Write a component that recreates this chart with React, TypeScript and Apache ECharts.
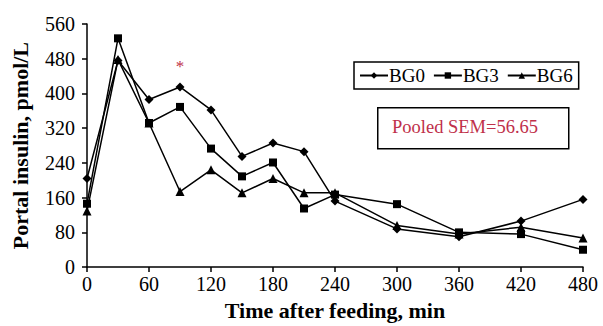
import React, { useEffect, useRef } from "react";
import * as echarts from "echarts";

const times = [0, 30, 60, 90, 120, 150, 180, 210, 240, 300, 360, 420, 480];
const bg0 = [204, 476, 386, 415, 362, 255, 286, 266, 152, 88, 70, 106, 156];
const bg3 = [146, 527, 332, 369, 273, 209, 241, 135, 167, 145, 80, 76, 40];
const bg6 = [129, 478, 332, 174, 224, 171, 204, 171, 171, 96, 76, 92, 67];
const seriesNames = ["BG0", "BG3", "BG6"];
const sigPoint = [90, 463];
const semText = "Pooled SEM=56.65";

const FONT = "'Liberation Serif', 'Times New Roman', serif";

export default function App() {
  const ref = useRef<HTMLDivElement>(null);
  useEffect(() => {
    if (!ref.current) return;
    const chart = echarts.init(ref.current, null, { renderer: "svg" });
    const mk = (name: string, vals: number[], symbol: string, size: number) => ({
      name,
      type: "line",
      data: times.map((t, i) => [t, vals[i]]),
      symbol,
      symbolSize: size,
      showSymbol: true,
      lineStyle: { color: "#000", width: 1.5 },
      itemStyle: { color: "#000" },
      z: 3,
    });
    const s0: any = mk(seriesNames[0], bg0, "diamond", 9);
    s0.markPoint = {
      symbol: "circle",
      symbolSize: 0,
      data: [{ coord: sigPoint }],
      label: { show: true, formatter: "*", color: "#c0304a", fontSize: 17, fontFamily: FONT, position: "inside" },
    };
    chart.setOption({
      animation: false,
      grid: { left: 87, right: 20, top: 24, bottom: 53 },
      xAxis: {
        type: "value",
        min: 0,
        max: 480,
        interval: 60,
        name: "Time after feeding, min",
        nameLocation: "middle",
        nameGap: 31,
        nameTextStyle: { fontFamily: FONT, fontSize: 22, fontWeight: "bold", color: "#000" },
        axisLine: { lineStyle: { color: "#000", width: 1.5 } },
        axisTick: { show: true, length: 5, lineStyle: { color: "#000", width: 1.5 } },
        axisLabel: { fontFamily: FONT, fontSize: 20, color: "#000", margin: 7 },
        splitLine: { show: false },
      },
      yAxis: {
        type: "value",
        min: 0,
        max: 560,
        interval: 80,
        name: "Portal insulin, pmol/L",
        nameLocation: "middle",
        nameGap: 56,
        nameTextStyle: { fontFamily: FONT, fontSize: 22, fontWeight: "bold", color: "#000" },
        axisLine: { show: true, lineStyle: { color: "#000", width: 1.5 } },
        axisTick: { show: true, length: 5, lineStyle: { color: "#000", width: 1.5 } },
        axisLabel: { fontFamily: FONT, fontSize: 20, color: "#000", margin: 12 },
        splitLine: { show: false },
      },
      legend: {
        data: seriesNames,
        left: 354,
        top: 62,
        borderColor: "#000",
        borderWidth: 1.5,
        padding: [4, 6, 4, 5],
        itemGap: 8,
        itemWidth: 28,
        itemHeight: 8,
        textStyle: { fontFamily: FONT, fontSize: 19, color: "#000", padding: [0, 0, 0, -4] },
      },
      graphic: [
        {
          type: "rect",
          left: 377,
          top: 107,
          shape: { width: 191, height: 41 },
          style: { fill: "#fff", stroke: "#000", lineWidth: 1.5 },
        },
        {
          type: "text",
          left: 392,
          top: 117,
          style: { text: semText, fill: "#c0304a", font: `18.5px ${FONT}` },
        },
      ],
      series: [s0, mk(seriesNames[1], bg3, "rect", 8), mk(seriesNames[2], bg6, "triangle", 9)],
    });
    return () => chart.dispose();
  }, []);
  return <div ref={ref} style={{ position: "absolute", left: 0, top: 0, width: 603, height: 326 }} />;
}
